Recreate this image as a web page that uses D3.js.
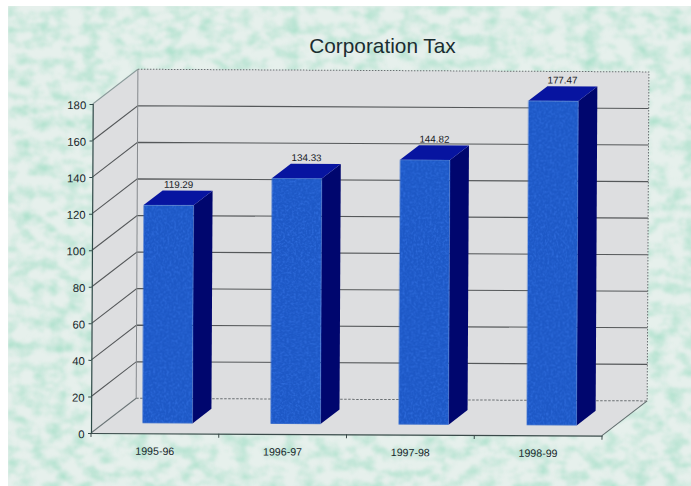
<!DOCTYPE html>
<html>
<head>
<meta charset="utf-8">
<title>Corporation Tax</title>
<script src="https://cdn.jsdelivr.net/npm/d3@7/dist/d3.min.js"></script>
<style>
  html, body { margin: 0; padding: 0; background: #fff; }
  svg { display: block; }
  text { font-family: "Liberation Sans", Arial, sans-serif; }
</style>
</head>
<body>
<svg id="chart" width="691" height="486"></svg>
<script>
// Chart data
const chartTitle = "Corporation Tax";
const categories = ["1995-96", "1996-97", "1997-98", "1998-99"];
const taxValues = [119.29, 134.33, 144.82, 177.47];
const valueTicks = [0, 20, 40, 60, 80, 100, 120, 140, 160, 180];

const svg = d3.select("#chart");
const defs = svg.append("defs");

// Mottled paper texture: pale green patches over an off-white ground
const paper = defs.append("filter").attr("id", "paper")
  .attr("x", 0).attr("y", 0).attr("width", "100%").attr("height", "100%")
  .attr("color-interpolation-filters", "sRGB");
paper.append("feTurbulence").attr("type", "fractalNoise")
  .attr("baseFrequency", "0.06 0.085").attr("numOctaves", 4).attr("seed", 23).attr("result", "n");
paper.append("feColorMatrix").attr("in", "n").attr("type", "matrix")
  .attr("values", "0 0 0 0 0.68  0 0 0 0 0.88  0 0 0 0 0.8  2.0 0 0 0 -0.8")
  .attr("result", "patches");
paper.append("feGaussianBlur").attr("in", "patches").attr("stdDeviation", 1.3);

// Fine grain on the front faces of the columns
const grain = defs.append("filter").attr("id", "grain")
  .attr("x", 0).attr("y", 0).attr("width", "100%").attr("height", "100%")
  .attr("color-interpolation-filters", "sRGB");
grain.append("feTurbulence").attr("type", "fractalNoise")
  .attr("baseFrequency", 0.45).attr("numOctaves", 2).attr("seed", 4).attr("result", "n");
grain.append("feColorMatrix").attr("in", "n").attr("type", "matrix")
  .attr("values", "0 0 0 0 0.25  0 0 0 0 0.5  0 0 0 0 0.95  1.2 0 0 0 -0.5")
  .attr("result", "speck");
grain.append("feComposite").attr("in", "speck").attr("in2", "SourceGraphic").attr("operator", "in").attr("result", "s");
grain.append("feMerge").selectAll("feMergeNode").data(["SourceGraphic", "s"]).enter()
  .append("feMergeNode").attr("in", d => d);

// Page ground, running off the right and bottom edges
svg.append("rect").attr("x", 8).attr("y", 6).attr("width", 700).attr("height", 500).attr("fill", "#e6f0ec");
svg.append("rect").attr("x", 8).attr("y", 6).attr("width", 700).attr("height", 500)
  .attr("fill", "#fff").attr("filter", "url(#paper)");

// Title
svg.append("text").attr("x", 382.5).attr("y", 52.5).attr("text-anchor", "middle")
  .attr("font-size", 20.8).attr("fill", "#1b2d30").text(chartTitle);

// Plot box; the whole plot sits a fraction of a degree off square
const x0 = 91, x1 = 602, y0 = 433, y1 = 104;
const depthX = 45, depthY = -35;
const plot = svg.append("g").attr("transform", `rotate(0.3 ${x0} ${y0})`);

const y = d3.scaleLinear().domain([0, 180]).range([y0, y1]);
const x = d3.scaleBand().domain(categories).range([x0, x1]).paddingInner(0.61).paddingOuter(0.3);
const xLabels = d3.scaleBand().domain(categories).range([x0, x1]);
const z = d3.scaleLinear().domain([0, 1]).range([0, 1]);

// Projects a point given in screen x, value and depth (0 front .. 1 back)
const px = (sx, depth) => sx + z(depth) * depthX;
const py = (v, depth) => y(v) + z(depth) * depthY;
const poly = pts => pts.map(p => p.join(",")).join(" ");

// Walls and floor
const wall = "#dddee0";
plot.append("polygon").attr("fill", wall)
  .attr("points", poly([[px(x0,0),py(0,0)],[px(x0,0),py(180,0)],[px(x0,1),py(180,1)],[px(x1,1),py(180,1)],[px(x1,1),py(0,1)],[px(x1,0),py(0,0)]]));

// Wall gridlines: back wall and left wall for each value
const gridValues = valueTicks.filter(v => v > 0 && v < 180);
plot.append("g").attr("stroke", "#55585a").attr("stroke-width", 1.1).attr("fill", "none")
  .selectAll("polyline").data(gridValues).enter().append("polyline")
  .attr("points", v => poly([[px(x0,0),py(v,0)],[px(x0,1),py(v,1)],[px(x1,1),py(v,1)]]));

// Floor edge at the back, top and right of the back wall are dotted
const dotted = plot.append("g").attr("stroke", "#6a6f72").attr("stroke-width", 1).attr("fill", "none");
dotted.append("polyline").attr("stroke-dasharray", "2.5 1.5")
  .attr("points", poly([[px(x0,1),py(0,1)],[px(x1,1),py(0,1)]]));
dotted.append("polyline").attr("stroke-dasharray", "1.5 1.5")
  .attr("points", poly([[px(x0,1),py(180,1)],[px(x1,1),py(180,1)],[px(x1,1),py(0,1)]]));
dotted.append("line").attr("stroke", "#85898c")
  .attr("x1", px(x0,1)).attr("y1", py(180,1)).attr("x2", px(x0,1)).attr("y2", py(0,1));
dotted.append("line").attr("stroke", "#8a9a9a")
  .attr("x1", px(x0,0)).attr("y1", py(180,0)).attr("x2", px(x0,1)).attr("y2", py(180,1));
dotted.append("line").attr("stroke", "#6a7476")
  .attr("x1", px(x0,0)).attr("y1", py(0,0)).attr("x2", px(x0,1)).attr("y2", py(0,1));
dotted.append("line").attr("stroke", "#5f6b6c")
  .attr("x1", px(x1,0)).attr("y1", py(0,0)).attr("x2", px(x1,1)).attr("y2", py(0,1));

// Columns
const zFront = 0.29, zBack = 0.71;
const bars = plot.append("g").selectAll("g").data(categories.map((c, i) => ({ c, v: taxValues[i] }))).enter().append("g");
bars.append("polygon").attr("fill", "#00066e")
  .attr("points", d => {
    const r = x(d.c) + x.bandwidth();
    return poly([[px(r,zFront),py(0,zFront)],[px(r,zBack),py(0,zBack)],[px(r,zBack),py(d.v,zBack)],[px(r,zFront),py(d.v,zFront)]]);
  });
bars.append("polygon").attr("fill", "#0714a0")
  .attr("points", d => {
    const l = x(d.c), r = l + x.bandwidth();
    return poly([[px(l,zFront),py(d.v,zFront)],[px(l,zBack),py(d.v,zBack)],[px(r,zBack),py(d.v,zBack)],[px(r,zFront),py(d.v,zFront)]]);
  });
bars.append("rect").attr("fill", "#1d58c6").attr("filter", "url(#grain)")
  .attr("x", d => px(x(d.c), zFront)).attr("y", d => py(d.v, zFront))
  .attr("width", x.bandwidth()).attr("height", d => py(0, zFront) - py(d.v, zFront));

// Value labels above each column
bars.append("text").attr("text-anchor", "middle").attr("font-size", 9.8).attr("fill", "#16191e")
  .attr("x", d => px(xLabels(d.c) + xLabels.bandwidth() / 2, 0.5))
  .attr("y", d => py(d.v, 0.5) - 10)
  .text(d => d.v.toFixed(2));

// Value axis
const yAxis = plot.append("g").attr("transform", `translate(${x0},0)`)
  .call(d3.axisLeft(y).tickValues(valueTicks).tickSize(3).tickPadding(3.5).tickFormat(d3.format("d")));
yAxis.select(".domain").attr("stroke", "#2f4a48").attr("stroke-width", 1.2);
yAxis.selectAll("line").attr("stroke", "#2f4a48");
yAxis.selectAll("text").attr("font-size", 11.3).attr("fill", "#16262a").attr("dy", "0.42em")
  .style("font-family", '"Liberation Sans", Arial, sans-serif');

// Category axis, with tick marks on the band boundaries
const xAxis = plot.append("g").attr("transform", `translate(0,${y0})`)
  .call(d3.axisBottom(xLabels).tickSize(0).tickPadding(14));
xAxis.select(".domain").attr("stroke", "#3a4a4a").attr("stroke-width", 1.2);
xAxis.selectAll("text").attr("font-size", 10.6).attr("fill", "#16262a")
  .style("font-family", '"Liberation Sans", Arial, sans-serif');
xAxis.selectAll(".boundary").data(d3.range(categories.length + 1)).enter().append("line")
  .attr("class", "boundary").attr("stroke", "#3a4a4a")
  .attr("x1", i => x0 + i * xLabels.step()).attr("x2", i => x0 + i * xLabels.step())
  .attr("y1", 0).attr("y2", 4);
</script>
</body>
</html>
